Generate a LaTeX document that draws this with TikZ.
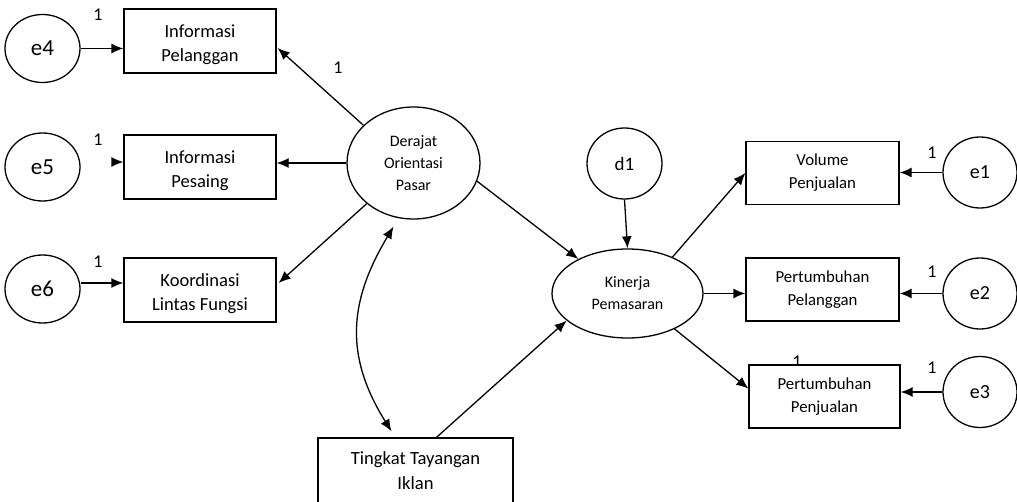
\documentclass[tikz,border=0pt]{standalone}
\usepackage{fontspec}
\setmainfont{Carlito}
\usetikzlibrary{arrows.meta,calc,shapes.geometric}
\newcommand{\dn}{\rule{0pt}{20pt}}
\tikzset{
  arr/.style={line width=1.3pt,-{Latex[length=12pt,width=10pt]}},
  darr/.style={line width=1.3pt,{Latex[length=12pt,width=10pt]}-{Latex[length=12pt,width=10pt]}},
  lbox/.style={draw,line width=1.3pt,fill=white,minimum width=152pt,minimum height=64pt,inner sep=0pt,align=center,font=\fontsize{18.5}{24}\selectfont},
  rbox/.style={draw,line width=1.3pt,fill=white,minimum width=153pt,minimum height=63pt,inner sep=0pt,align=center,font=\fontsize{16.8}{23}\selectfont},
  lat/.style={draw,ellipse,line width=1.3pt,inner sep=0pt,align=center,font=\fontsize{16}{22}\selectfont},
  err/.style={draw,ellipse,line width=1.3pt,inner sep=0pt,minimum width=75pt,minimum height=68pt},
  one/.style={inner sep=0pt,font=\fontsize{18}{20}\selectfont}
}
\begin{document}
\begin{tikzpicture}[x=1pt,y=-1pt]
\useasboundingbox (0,0) rectangle (1017,502);
% labels drawn before boxes so the box can cover part of them
\node[one] (l4) at (98,15) {1};
\node[one] (l5) at (98,140) {1};
\node[one] (l6) at (98,262) {1};
\node[one] (l0) at (338,68) {1};
\node[one] (l1) at (932,153) {1};
\node[one] (l2) at (932,272) {1};
\node[one] (l3) at (932,368) {1};
\node[one] (lx) at (797,362) {1};
% error terms
\node[err,font=\fontsize{23}{26}\selectfont] (e4) at (42.5,48.5) {e4};
\node[err,font=\fontsize{23}{26}\selectfont] (e5) at (42.5,167) {e5};
\node[err,font=\fontsize{23}{26}\selectfont] (e6) at (42.5,289) {e6};
\node[err,minimum width=74pt,minimum height=71pt,font=\fontsize{20}{24}\selectfont] (e1) at (980,172.5) {e1};
\node[err,minimum width=74pt,minimum height=71pt,font=\fontsize{20}{24}\selectfont] (e2) at (980,293.5) {e2};
\node[err,minimum width=74pt,minimum height=71pt,font=\fontsize{20}{24}\selectfont] (e3) at (980,392) {e3};
\node[err,minimum width=75pt,minimum height=71pt,font=\fontsize{19}{24}\selectfont] (d1) at (624.5,163.5) {d1};
% observed
\node[lbox] (ip) at (200,41) {\dn Informasi\\Pelanggan};
\node[lbox] (pes) at (200,167) {\dn Informasi\\Pesaing};
\node[lbox] (ko) at (200,290) {\dn Koordinasi\\Lintas Fungsi};
\node[rbox] (vol) at (822.5,173) {Volume\\Penjualan};
\node[rbox] (pp) at (822.5,289.5) {Pertumbuhan\\Pelanggan};
\node[rbox,minimum width=151pt] (pj) at (824.5,396.5) {Pertumbuhan\\Penjualan};
\node[draw,line width=1.3pt,fill=white,minimum width=195pt,minimum height=66pt,inner sep=0pt,align=center,font=\fontsize{18.6}{25}\selectfont] (tk) at (415.5,471) {Tingkat Tayangan\\Iklan};
% latent
\node[lat,minimum width=133pt,minimum height=112pt] (der) at (413.5,163) {Derajat\\Orientasi\\Pasar};
\node[lat,minimum width=151pt,minimum height=89pt] (kin) at (627.5,293.5) {Kinerja\\Pemasaran};
% connectors
\draw[arr] (e4.east) -- (e4.east -| ip.west);
\coordinate (e5a) at (113,162);
\draw[arr] (e5a) -- (e5a -| pes.west);
\draw[arr] ($(e6.east)+(0,-6)$) -- ($(e6.east -| ko.west)+(0,-6)$);
\draw[arr] (der.143) -- ($(ip.east)+(1,7)$);
\draw[arr] (der.west) -- (der.west -| pes.east);
\draw[arr] (der.221) -- ($(ko.east)+(2,-7)$);
\draw[arr] (der.344) -- (kin.145);
\draw[arr] (d1.south) -- (kin.north);
\draw[arr] ($(tk.north)+(21,0)$) -- (kin.204);
\draw[darr] ($(der.south)+(-20,7)$) to[out=239,in=122,looseness=1.1] ($(tk.north)+(-24,-6)$);
\draw[arr] (kin.39) -- (vol.west);
\draw[arr] (kin.east) -- (kin.east -| pp.west);
\draw[arr] (kin.323) -- ($(pj.west)+(0,-8)$);
\draw[arr] (e1.west) -- (e1.west -| vol.east);
\draw[arr] (e2.west) -- (e2.west -| pp.east);
\draw[arr] (e3.west) -- (e3.west -| pj.east);
\end{tikzpicture}
\end{document}
